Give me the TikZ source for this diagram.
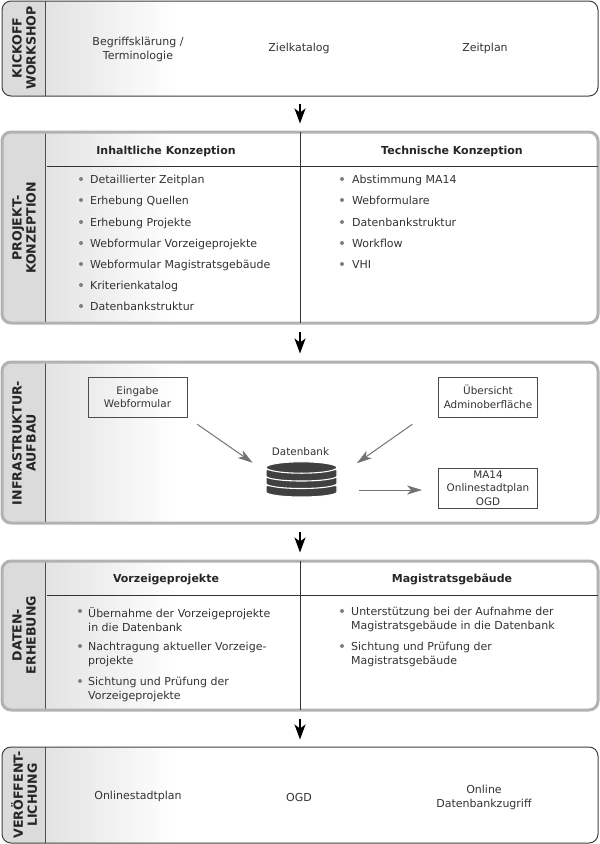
\documentclass[tikz,border=0pt]{standalone}
\usepackage{fontspec}
\setmainfont{DejaVu Sans}
\usetikzlibrary{arrows.meta,calc}
\definecolor{textcol}{gray}{0.2}
\definecolor{stripcol}{gray}{0.86}
\tikzset{
    panel/.style={rectangle,rounded corners=9pt,minimum width=596pt,inner sep=0pt,fill=white,
        path picture={
            \foreach \k in {0,2,...,130} {
                \pgfmathsetmacro\fade{11*(1-\k/132)}
                \fill[sharp corners,black!\fade] ($(path picture bounding box.north west)+(43pt+\k pt,0pt)$) rectangle ($(path picture bounding box.south west)+(175pt,0pt)$);
            }
            \fill[sharp corners,stripcol] (path picture bounding box.north west) rectangle ($(path picture bounding box.south west)+(43pt,0pt)$);
            \draw[sharp corners,black!70,line width=0.9pt] ($(path picture bounding box.north west)+(43pt,0pt)$) -- ($(path picture bounding box.south west)+(43pt,0pt)$);
        }},
    darkpanel/.style={panel,draw=black!75,line width=1pt},
    greypanel/.style={panel,draw=black!30,line width=3pt},
    phase/.style={rotate=90,align=center,text=black!85,font=\fontsize{12.6}{14}\selectfont\bfseries},
    plain/.style={align=center,text=textcol,inner sep=0pt,font=\fontsize{11}{14}\selectfont},
    txt/.style={plain,yshift=-1.5pt},
    head/.style={plain,text=black!85,yshift=-1.5pt,font=\fontsize{11}{14}\selectfont\bfseries},
    item/.style={plain,align=left,anchor=north west,yshift=4pt},
    dot/.style={circle,fill=black!50,inner sep=0pt,minimum size=4pt},
    box/.style={plain,font=\fontsize{10.4}{13.5}\selectfont,draw=black!70,line width=0.8pt,minimum width=99pt,minimum height=40pt},
    divider/.style={black!80,line width=0.8pt,shorten <=1.5pt,shorten >=1.5pt},
    flow/.style={-{Stealth[length=15pt,width=11pt,inset=4pt]},black,line width=1.5pt,shorten <=7pt,shorten >=7pt},
    feed/.style={-{Stealth[length=15pt,width=9pt,inset=4pt]},black!55,line width=1pt},
    disk/.style={fill=black!75,draw=white,line width=1.1pt},
}
\begin{document}
\begin{tikzpicture}[x=1pt,y=-1pt]
    \useasboundingbox (0,0) rectangle (600,844);
    % panels
    \node[darkpanel,minimum height=95pt] (kickoff) at (300,48.5) {};
    \node[greypanel,minimum height=191pt] (konzeption) at (300,227.5) {};
    \node[greypanel,minimum height=161pt] (aufbau) at (300,442.5) {};
    \node[greypanel,minimum height=149pt] (erhebung) at (300,635.5) {};
    \node[darkpanel,minimum height=96pt] (veroeff) at (300,795) {};
    \node[phase] (kickofflabel) at (24,48) {KICKOFF\\WORKSHOP};
    \node[phase] (konzeptionlabel) at (24,228) {PROJEKT-\\KONZEPTION};
    \node[phase] (aufbaulabel) at (24,443) {INFRASTRUKTUR-\\AUFBAU};
    \node[phase] (erhebunglabel) at (24,635) {DATEN-\\ERHEBUNG};
    \node[phase] (veroefflabel) at (24,795) {VERÖFFENT-\\LICHUNG};
    \draw[flow] (kickoff) -- (konzeption);
    \draw[flow] (konzeption) -- (aufbau);
    \draw[flow] (aufbau) -- (erhebung);
    \draw[flow] (erhebung) -- (veroeff);
    % kickoff
    \node[txt] (begriff) at (138,48) {Begriffsklärung /\\Terminologie};
    \node[txt] (ziel) at (299,47) {Zielkatalog};
    \node[txt] (zeit) at (485,47) {Zeitplan};
    % konzeption
    \draw[divider] (45,166) -- (konzeption.east |- 45,166);
    \draw[divider] (konzeption.north) -- (konzeption.south);
    \node[head] (inhalt) at (166,150) {Inhaltliche Konzeption};
    \node[head] (technik) at (452,150) {Technische Konzeption};
    \foreach \y/\entry [count=\i] in {179/Detaillierter Zeitplan,200/Erhebung Quellen,222/Erhebung Projekte,243/Webformular Vorzeigeprojekte,264/Webformular Magistratsgebäude,285/Kriterienkatalog,306/Datenbankstruktur} {
        \node[dot] (inhaltdot\i) at (81,\y) {};
        \node[item] (inhalt\i) at (90,\y) {\entry};
    }
    \foreach \y/\entry [count=\i] in {179/Abstimmung MA14,200/Webformulare,222/Datenbankstruktur,243/Workflow,264/VHI} {
        \node[dot] (technikdot\i) at (342,\y) {};
        \node[item] (technik\i) at (352,\y) {\entry};
    }
    % aufbau
    \node[box] (eingabe) at (137.5,397) {Eingabe\\Webformular};
    \node[box] (uebersicht) at (488,397) {Übersicht\\Adminoberfläche};
    \node[box] (ausgabe) at (488,488) {MA14\\Onlinestadtplan\\OGD};
    \node[plain,font=\fontsize{10.4}{13.5}\selectfont] (dblabel) at (300.5,452) {Datenbank};
    \node[minimum width=71pt,minimum height=35pt,inner sep=0pt] (db) at (301.5,479.5) {};
    \foreach \y in {490,481.5,474} {
        \filldraw[disk] (266,\y-4.5) -- (266,\y+2) arc [start angle=180,end angle=0,x radius=35.5,y radius=5] -- (337,\y-4.5) -- cycle;
    }
    \filldraw[disk] (301.5,467.5) ellipse [x radius=35.5,y radius=5.7];
    \draw[feed,shorten <=12pt,shorten >=16pt] (eingabe.south east) -- (db.168);
    \draw[feed,shorten <=12pt,shorten >=24pt] ([xshift=-16pt]uebersicht.south west) -- (db.4);
    \draw[feed,shorten <=22pt,shorten >=16pt] ([yshift=-2pt]ausgabe.west -| db.east) -- ([yshift=-2pt]ausgabe.west);
    % erhebung
    \draw[divider] (45,595) -- (erhebung.east |- 45,595);
    \draw[divider] (erhebung.north) -- (erhebung.south);
    \node[head] (vorzeige) at (166,578) {Vorzeigeprojekte};
    \node[head] (magistrat) at (452,578) {Magistratsgebäude};
    \foreach \y/\entry [count=\i] in {611/{Übernahme der Vorzeigeprojekte\\in die Datenbank},646/{Nachtragung aktueller Vorzeige-\\projekte},681/{Sichtung und Prüfung der\\Vorzeigeprojekte}} {
        \node[dot] (vorzeigedot\i) at (80,\y) {};
        \node[item] (vorzeige\i) at (88,\y) {\entry};
    }
    \foreach \y/\entry [count=\i] in {611/{Unterstützung bei der Aufnahme der\\Magistratsgebäude in die Datenbank},646/{Sichtung und Prüfung der\\Magistratsgebäude}} {
        \node[dot] (magistratdot\i) at (342,\y) {};
        \node[item] (magistrat\i) at (351,\y) {\entry};
    }
    % veroeffentlichung
    \node[txt] (stadtplan) at (138,795) {Onlinestadtplan};
    \node[txt] (ogd) at (299,796) {OGD};
    \node[txt] (zugriff) at (484,796) {Online\\Datenbankzugriff};
\end{tikzpicture}
\end{document}
